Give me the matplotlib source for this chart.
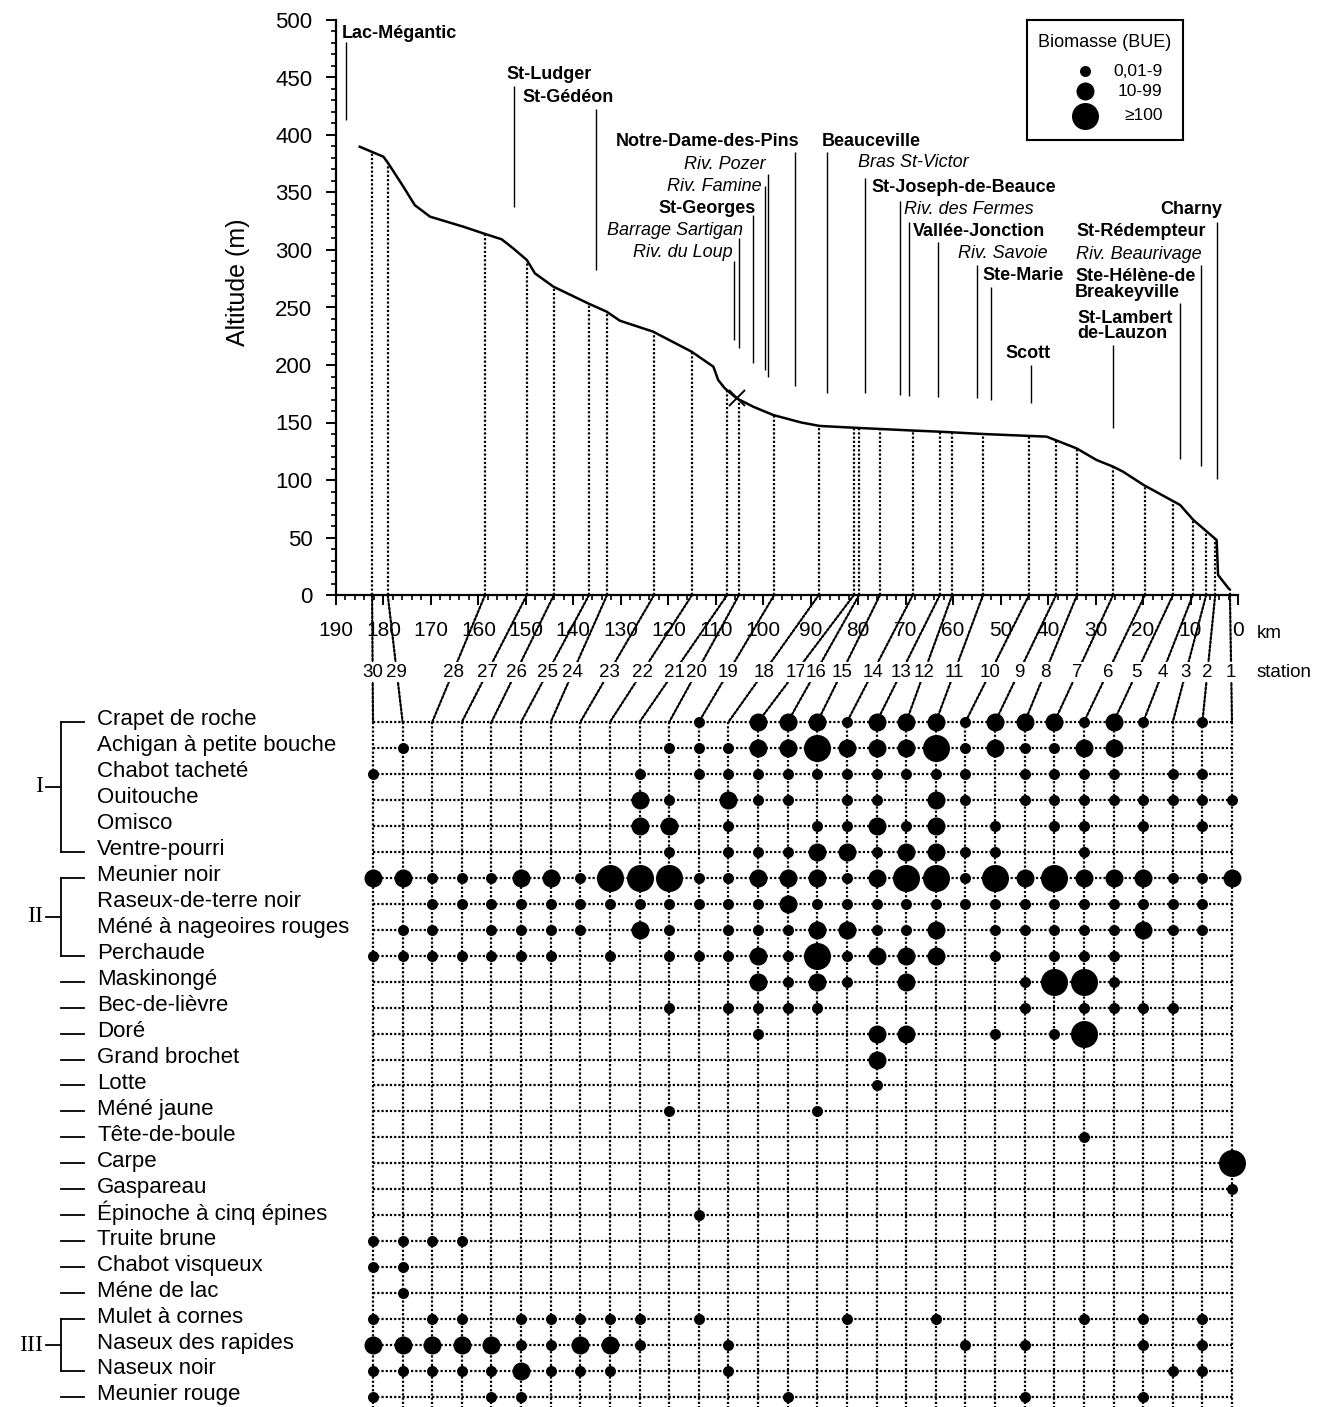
import numpy as np
import matplotlib.pyplot as plt
from matplotlib import transforms
from matplotlib.patches import ConnectionPatch

plt.rcParams['font.family'] = ['Liberation Sans', 'DejaVu Sans']

# longitudinal profile: distance from the mouth (km) and altitude (m)
profile_km = [185.0, 180.0, 179.0, 175.8, 173.4, 170.2, 163.2, 159.0, 155.1, 152.7,
              149.8, 148.1, 144.2, 136.9, 133.0, 130.2, 123.2, 115.1, 110.5, 109.5,
              108.1, 105.6, 102.1, 97.9, 92.0, 88.1, 81.1, 68.5, 62.8, 53.7,
              40.3, 34.0, 29.8, 26.3, 24.2, 19.9, 12.2, 9.4, 4.5, 4.2, 2.0]
profile_alt = [389.8, 381.1, 375.4, 355.0, 339.0, 329.0, 320.3, 314.5, 309.3, 301.5,
               291.3, 279.7, 268.1, 253.6, 246.4, 238.5, 229.0, 211.6, 198.5, 187.0,
               179.7, 171.0, 163.7, 156.5, 150.0, 147.0, 145.5, 143.0, 142.0, 140.0,
               137.7, 127.5, 117.4, 111.6, 107.2, 95.7, 78.3, 65.2, 47.8, 17.4, 5.8]

# Barrage Sartigan
dam_km = 105.6

# sampling stations, upstream to downstream
station_ids = list(range(30, 0, -1))
station_km = [182.4, 179.1, 158.6, 149.8, 144.1, 136.7, 132.9, 123.0, 115.0, 107.6,
              105.1, 97.7, 88.3, 80.9, 79.8, 75.4, 68.5, 62.8, 60.2, 53.7,
              44.0, 38.3, 33.9, 26.3, 19.6, 13.7, 9.5, 6.7, 4.8, 1.7]

species = ["Crapet de roche", "Achigan à petite bouche", "Chabot tacheté", "Ouitouche",
           "Omisco", "Ventre-pourri", "Meunier noir", "Raseux-de-terre noir",
           "Méné à nageoires rouges", "Perchaude", "Maskinongé", "Bec-de-lièvre", "Doré",
           "Grand brochet", "Lotte", "Méné jaune", "Tête-de-boule", "Carpe", "Gaspareau",
           "Épinoche à cinq épines", "Truite brune", "Chabot visqueux", "Méne de lac",
           "Mulet à cornes", "Naseux des rapides", "Naseux noir", "Meunier rouge"]
groups = [("I", 0, 5), ("II", 6, 9), ("III", 23, 25)]

# biomass class per station: 1 = 0,01-9   2 = 10-99   3 = >=100
biomass = [
    {19: 1, 17: 2, 16: 2, 15: 2, 14: 1, 13: 2, 12: 2, 11: 2, 10: 1, 9: 2, 8: 2, 7: 2, 6: 1, 5: 2, 4: 1, 2: 1},
    {29: 1, 20: 1, 19: 1, 18: 1, 17: 2, 16: 2, 15: 3, 14: 2, 13: 2, 12: 2, 11: 3, 10: 1, 9: 2, 8: 1, 7: 1, 6: 2, 5: 2},
    {30: 1, 21: 1, 19: 1, 18: 1, 17: 1, 16: 1, 15: 1, 14: 1, 13: 1, 12: 1, 11: 1, 10: 1, 8: 1, 7: 1, 6: 1, 5: 1, 3: 1, 2: 1},
    {21: 2, 20: 1, 18: 2, 17: 1, 16: 1, 14: 1, 13: 1, 11: 2, 10: 1, 8: 1, 7: 1, 6: 1, 5: 1, 4: 1, 3: 1, 2: 1, 1: 1},
    {21: 2, 20: 2, 18: 1, 15: 1, 14: 1, 13: 2, 12: 1, 11: 2, 9: 1, 7: 1, 6: 1, 4: 1, 2: 1},
    {20: 1, 18: 1, 17: 1, 16: 1, 15: 2, 14: 2, 13: 1, 12: 2, 11: 2, 10: 1, 9: 1, 6: 1},
    {30: 2, 29: 2, 28: 1, 27: 1, 26: 1, 25: 2, 24: 2, 23: 1, 22: 3, 21: 3, 20: 3, 19: 1, 18: 1, 17: 2, 16: 2,
     15: 2, 14: 1, 13: 2, 12: 3, 11: 3, 10: 1, 9: 3, 8: 2, 7: 3, 6: 2, 5: 2, 4: 2, 3: 1, 2: 1, 1: 2},
    {28: 1, 27: 1, 26: 1, 25: 1, 24: 1, 23: 1, 22: 1, 21: 1, 20: 1, 19: 1, 18: 1, 17: 1, 16: 2,
     15: 1, 14: 1, 13: 1, 12: 1, 11: 1, 10: 1, 9: 1, 8: 1, 7: 1, 6: 1, 5: 1, 4: 1, 3: 1, 2: 1},
    {29: 1, 28: 1, 26: 1, 25: 1, 24: 1, 23: 1, 21: 2, 20: 1, 18: 1, 17: 1, 16: 1, 15: 2, 14: 2,
     13: 1, 12: 1, 11: 2, 9: 1, 8: 1, 7: 1, 6: 1, 5: 1, 4: 2, 3: 1, 2: 1},
    {30: 1, 29: 1, 28: 1, 27: 1, 26: 1, 25: 1, 24: 1, 22: 1, 20: 1, 19: 1, 18: 1, 17: 2, 16: 1,
     15: 3, 14: 1, 13: 2, 12: 2, 11: 2, 9: 1, 7: 1, 6: 1, 5: 1},
    {17: 2, 16: 1, 15: 2, 14: 1, 12: 2, 8: 1, 7: 3, 6: 3, 5: 1},
    {20: 1, 18: 1, 17: 1, 16: 1, 15: 1, 8: 1, 6: 1, 5: 1, 4: 1, 3: 1},
    {17: 1, 13: 2, 12: 2, 9: 1, 7: 1, 6: 3},
    {13: 2},
    {13: 1},
    {20: 1, 15: 1},
    {6: 1},
    {1: 3},
    {1: 1},
    {19: 1},
    {30: 1, 29: 1, 28: 1, 27: 1},
    {30: 1, 29: 1},
    {29: 1},
    {30: 1, 28: 1, 27: 1, 25: 1, 24: 1, 23: 1, 22: 1, 21: 1, 19: 1, 14: 1, 11: 1, 6: 1, 4: 1, 2: 1},
    {30: 2, 29: 2, 28: 2, 27: 2, 26: 2, 25: 1, 24: 1, 23: 2, 22: 2, 21: 1, 18: 1, 10: 1, 8: 1, 4: 1, 2: 1},
    {30: 1, 29: 1, 28: 1, 27: 1, 26: 1, 25: 2, 24: 1, 23: 1, 22: 1, 18: 1, 3: 1, 2: 1},
    {30: 1, 26: 1, 25: 1, 16: 1, 8: 1, 4: 1},
]
class_labels = ["0,01-9", "10-99", "≥100"]

# towns and tributaries along the river, with their position (km)
places = ["Lac-Mégantic", "St-Ludger", "St-Gédéon", "Notre-Dame-des-Pins", "Riv. Pozer",
          "Riv. Famine", "St-Georges", "Barrage Sartigan", "Riv. du Loup", "Beauceville",
          "Bras St-Victor", "St-Joseph-de-Beauce", "Riv. des Fermes", "Vallée-Jonction",
          "Riv. Savoie", "Ste-Marie", "Scott", "Charny", "St-Rédempteur", "Riv. Beaurivage",
          "Ste-Hélène-de\nBreakeyville", "St-Lambert\nde-Lauzon"]
place_km = [187.9, 152.5, 135.2, 93.3, 99.0, 99.7, 102.2, 105.1, 106.2, 86.6,
            78.6, 71.2, 69.3, 63.2, 55.0, 52.0, 43.6, 4.4, None, 7.7, 12.2, 26.3]
place_italic = [False, False, False, False, True, True, False, True, True, False,
                True, False, True, False, True, False, False, False, False, True, False, False]

# label anchor (km, altitude, alignment) and extent of each marker line
label_pos = [(188.7, 488, 'left'), (154.0, 453, 'left'), (150.8, 433, 'left'),
             (92.3, 394, 'right'), (99.4, 374, 'right'), (100.3, 355, 'right'),
             (101.5, 336.5, 'right'), (104.3, 317, 'right'), (106.4, 298, 'right'),
             (87.6, 394, 'left'), (80.0, 375.7, 'left'), (77.3, 354, 'left'),
             (70.4, 334.8, 'left'), (68.5, 316.5, 'left'), (59.0, 297, 'left'),
             (53.9, 278, 'left'), (44.2, 210, 'center'), (3.4, 335, 'right'),
             (34.1, 315.7, 'left'), (34.1, 296.5, 'left'), (34.3, 270, 'left'),
             (33.9, 233.5, 'left')]
line_span = [(413, 481), (337, 443), (283, 423), (182, 385), (190, 366), (196, 356),
             (202, 330), (215, 310), (222, 290), (176, 385), (176, 363), (174, 343),
             (173, 324), (172, 307), (171, 287), (170, 268), (167, 200), (101, 324),
             None, (112, 287), (118, 254), (145, 217)]

W, H = 1320, 1407
DOT = (0, (1, 0.9))
DOT_LW = 1.6
dot_px = {1: 11, 2: 18, 3: 27}


def box(l, t, r, b):
    return [l / W, 1 - b / H, (r - l) / W, (b - t) / H]


fig = plt.figure(figsize=(W / 100, H / 100), dpi=100)

# ---- altitude profile ----
ax = fig.add_axes(box(336, 20, 1238, 595))
ax.set_xlim(190, 0)
ax.set_ylim(0, 500)
for s in ('top', 'right'):
    ax.spines[s].set_visible(False)
for s in ('left', 'bottom'):
    ax.spines[s].set_linewidth(1.6)
ax.set_xticks(np.arange(0, 191, 10))
ax.set_xticks(np.arange(0, 191, 2), minor=True)
ax.set_yticks(np.arange(0, 501, 50))
ax.set_yticks(np.arange(0, 501, 10), minor=True)
ax.tick_params(which='major', direction='out', length=7, width=1.4)
ax.tick_params(which='minor', direction='out', length=3.5, width=1.2)
ax.tick_params(axis='y', labelsize=16, pad=10)
ax.tick_params(axis='x', labelsize=15, pad=12)
ax.set_ylabel("Altitude (m)", fontsize=18)
ax.yaxis.set_label_coords(-0.095, 0.544)

ax.plot(profile_km, profile_alt, color='k', lw=1.8)
rev_km, rev_alt = profile_km[::-1], profile_alt[::-1]
ax.plot(dam_km, np.interp(dam_km, rev_km, rev_alt), marker='x', ms=11, mew=1.4, color='k')

station_alt = np.interp(station_km, rev_km, rev_alt)
ax.vlines(station_km, 0, station_alt, colors='k', linestyles=DOT, lw=DOT_LW)

for name, km, ital, (lx, ly, ha), span in zip(places, place_km, place_italic, label_pos, line_span):
    ax.text(lx, ly, name, ha=ha, va='center', fontsize=13,
            fontweight='normal' if ital else 'bold',
            fontstyle='italic' if ital else 'normal', linespacing=0.85)
    if km is not None:
        ax.vlines(km, span[0], span[1], colors='k', lw=1.0)

fig.text(1257 / W, 1 - 634 / H, "km", fontsize=13.5, va='center')
fig.text(1257 / W, 1 - 672 / H, "station", fontsize=13.5, va='center')

# ---- species x stations matrix ----
pitch = (1397 - 722) / 26
ybot = (1407 - 722) / pitch
axg = fig.add_axes(box(373 - (1232 - 373) / 58, 722 - pitch / 2,
                       1232 + (1232 - 373) / 58, 1407))
axg.set_xlim(-0.5, 29.5)
axg.set_ylim(ybot, -0.5)
axg.axis('off')

cols = np.arange(len(station_ids))
rows = np.arange(len(species))
axg.vlines(cols, 0, ybot, colors='k', linestyles=DOT, lw=DOT_LW)
axg.hlines(rows, 0, cols[-1], colors='k', linestyles=DOT, lw=DOT_LW)

for c in (1, 2, 3):
    xs, ys = [], []
    for r, d in enumerate(biomass):
        for st, v in d.items():
            if v == c:
                xs.append(station_ids.index(st))
                ys.append(r)
    axg.scatter(xs, ys, s=(dot_px[c] * 0.72) ** 2, c='k', linewidths=0, zorder=3, clip_on=False)

# station links from the km axis down to the matrix
label_y = H - 672
for i, (st, km) in enumerate(zip(station_ids, station_km)):
    con = ConnectionPatch(xyA=(km, 0), coordsA=ax.transData,
                          xyB=(i, 0), coordsB=axg.transData,
                          color='k', lw=DOT_LW, linestyle=DOT, zorder=2)
    fig.add_artist(con)
    pa = ax.transData.transform((km, 0))
    pb = axg.transData.transform((i, 0))
    f = (pa[1] - label_y) / (pa[1] - pb[1])
    x = pa[0] + f * (pb[0] - pa[0])
    fig.text(x / W, label_y / H, str(st), ha='center', va='center', fontsize=13.5, zorder=4,
             bbox=dict(facecolor='white', edgecolor='none', pad=1.0))

# species names, brackets for the groups
tr = transforms.blended_transform_factory(fig.transFigure, axg.transData)
for r, name in enumerate(species):
    axg.text(97 / W, r - 0.08, name, transform=tr, fontsize=16, va='center', ha='left')

grouped = set()
for label, r0, r1 in groups:
    grouped.update(range(r0, r1 + 1))
    kw = dict(transform=tr, color='k', lw=1.3, clip_on=False)
    axg.plot([61 / W, 61 / W], [r0, r1], **kw)
    axg.plot([61 / W, 84 / W], [r0, r0], **kw)
    axg.plot([61 / W, 84 / W], [r1, r1], **kw)
    mid = (r0 + r1) / 2
    axg.plot([46 / W, 61 / W], [mid, mid], **kw)
    axg.text(43 / W, mid, label, transform=tr, ha='right', va='center', fontsize=17,
             family=['Liberation Serif', 'DejaVu Serif'])
for r in rows:
    if r not in grouped:
        axg.plot([61 / W, 84 / W], [r, r], transform=tr, color='k', lw=1.3, clip_on=False)

# ---- biomass key ----
axl = fig.add_axes(box(1027, 20, 1183, 140))
axl.set_xlim(0, 1)
axl.set_ylim(0, 1)
axl.set_xticks([])
axl.set_yticks([])
for s in axl.spines.values():
    s.set_linewidth(1.5)
axl.text(0.5, 0.81, "Biomasse (BUE)", ha='center', va='center', fontsize=13)
key_y = [0.575, 0.405, 0.2]
for c, y, lab in zip((1, 2, 3), key_y, class_labels):
    axl.scatter([0.37], [y], s=(dot_px[c] * 0.72) ** 2, c='k', linewidths=0)
    axl.text(0.87, y, lab, ha='right', va='center', fontsize=12.5)

fig.savefig("out.png", dpi=100)
